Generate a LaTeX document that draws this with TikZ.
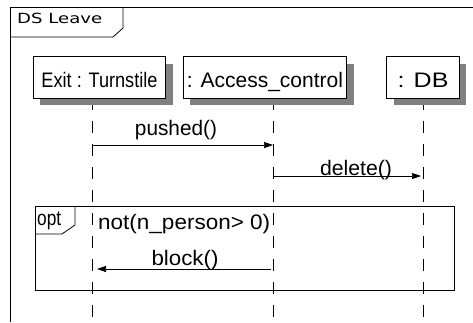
\documentclass[tikz,border=0pt]{standalone}
\usepackage{fontspec}
\setmainfont{Liberation Sans}
\newfontfamily\titlefont{DejaVu Sans}
\usetikzlibrary{arrows.meta,shadows}
\newcommand\fw[2]{\resizebox{#1}{\height}{#2}}
\begin{document}
\begin{tikzpicture}[x=1pt,y=-1pt,
  frameline/.style={draw=black,line width=0.8pt},
  lifeline/.style={draw=black,line width=0.7pt,dash pattern=on 12pt off 11pt},
  objbox/.style={draw=black,line width=0.9pt,fill=white,minimum height=41.5pt,
    inner sep=0pt,text height=19pt,text depth=0pt,
    font=\fontsize{21pt}{24pt}\selectfont,
    drop shadow={shadow xshift=7pt,shadow yshift=-7pt,fill=black!50,opacity=1}},
  msg/.style={draw=black,line width=0.7pt,-{Triangle[length=9pt,width=6pt]}},
  lbl/.style={inner sep=0pt,anchor=base,font=\fontsize{21pt}{24pt}\selectfont},
]
\useasboundingbox (0,0) rectangle (473,322);
% outer frame
\draw[frameline] (473,7) -- (10,7) -- (10,322);
\draw[frameline] (10,37) -- (113,37) -- (123,28) -- (123,7);
\node[inner sep=0pt,anchor=base west,font=\titlefont\fontsize{14pt}{16pt}\selectfont] (title) at (17,23) {\fw{85pt}{DS Leave}};
% lifelines
\coordinate (exitTop) at (92,98);   \coordinate (exitBot) at (92,322);
\coordinate (accTop) at (273,98);   \coordinate (accBot) at (273,322);
\coordinate (dbTop) at (423,98);    \coordinate (dbBot) at (423,322);
\draw[lifeline] (exitTop) -- (exitBot);
\draw[lifeline] (accTop) -- (accBot);
\draw[lifeline] (dbTop) -- (dbBot);
% object boxes
\node[objbox,minimum width=132.5pt] (exit) at (99.5,77.5) {\fw{116pt}{Exit : Turnstile}};
\node[objbox,minimum width=163.5pt] (acc) at (265,77.5) {\fw{156pt}{: Access\_control}};
\node[objbox,minimum width=72.5pt] (db) at (423,77.5) {\fw{51pt}{: DB}};
% messages
\coordinate (m1a) at (92,145);  \coordinate (m1b) at (273,145);
\coordinate (m2a) at (273,176); \coordinate (m2b) at (421,176);
\coordinate (m3a) at (271,269); \coordinate (m3b) at (97,269);
\draw[msg] (m1a) -- (m1b);
\node[lbl] (l1) at (176,135) {\fw{82pt}{pushed()}};
\draw[msg] (m2a) -- (m2b);
\node[lbl] (l2) at (356,175) {\fw{72pt}{delete()}};
% opt fragment
\draw[frameline] (35,206) rectangle (454,290);
\draw[frameline] (35,234) -- (62,234) -- (75,225) -- (75,206);
\node[inner sep=0pt,anchor=base west,font=\fontsize{21pt}{22pt}\selectfont] (opt) at (37,225) {\fw{24pt}{opt}};
\node[lbl,anchor=base west] (guard) at (98,229) {\fw{172pt}{not(n\_person> 0)}};
\draw[msg] (m3a) -- (m3b);
\node[lbl] (l3) at (185,265) {\fw{67pt}{block()}};
\end{tikzpicture}
\end{document}
